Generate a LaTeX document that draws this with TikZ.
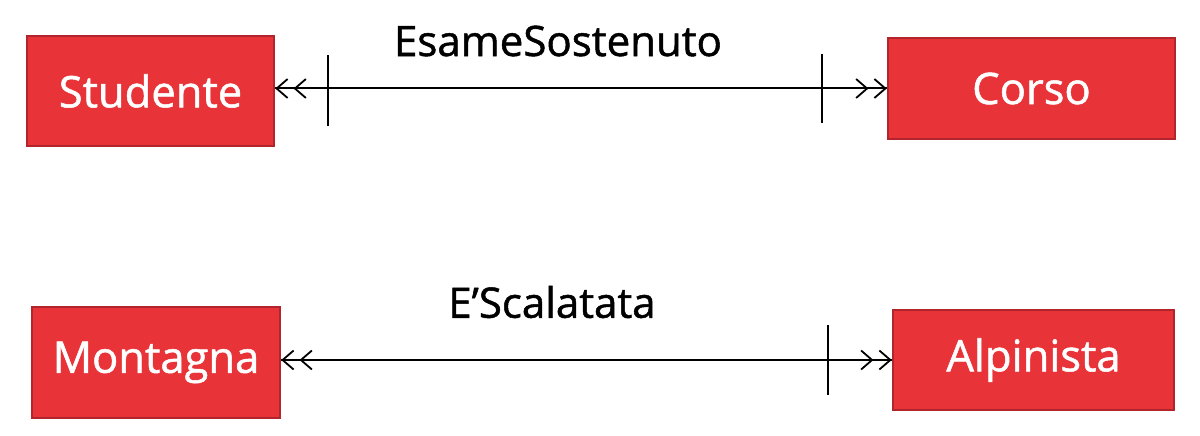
\documentclass[tikz,border=0pt]{standalone}
\usepackage{fontspec}
\setmainfont{Open Sans}
\newfontfamily\comicish[FakeBold=1.2]{Open Sans}
\usetikzlibrary{arrows.meta}
\definecolor{boxfill}{HTML}{E83338}
\definecolor{boxline}{HTML}{B0262C}
\tikzset{
  entity/.style={draw=boxline, fill=boxfill, line width=2.5pt, text=white,
    font=\comicish\fontsize{43.5}{50}\selectfont, inner sep=0pt},
  rel/.style={line width=2pt, draw=black},
  many/.style={-{Straight Barb[length=11pt,width=19pt,line width=1.8pt,sep=5pt]Straight Barb[length=11pt,width=19pt,line width=1.8pt]}},
  lbl/.style={font=\comicish\fontsize{42}{48}\selectfont, text=black},
  bar/.style={line width=2pt, draw=black}
}
\begin{document}
\begin{tikzpicture}[x=1pt,y=-1pt]
\useasboundingbox (0,0) rectangle (1200,436);
\node[entity, minimum width=247pt, minimum height=110pt] (stud) at (150.5,91) {Studente};
\node[entity, minimum width=287pt, minimum height=101pt] (corso) at (1031.5,88.5) {Corso};
\node[entity, minimum width=248pt, minimum height=111pt] (mont) at (156,362.5) {Montagna};
\node[entity, minimum width=281pt, minimum height=100pt] (alp) at (1033.5,360) {Alpinista};

\coordinate (a1) at (stud.east |- corso.west);
\draw[rel, many] (a1) -- (corso.west);
\draw[rel, many] (corso.west) -- (a1);
\coordinate (b1) at (328,90.5);
\coordinate (b2) at (822,88.5);
\draw[bar] ([yshift=-35.5pt]b1) -- ([yshift=35.5pt]b1);
\draw[bar] ([yshift=-34.5pt]b2) -- ([yshift=34.5pt]b2);
\node[lbl] (l1) at (558,41) {EsameSostenuto};

\coordinate (a2) at (mont.east |- alp.west);
\draw[rel, many] (a2) -- (alp.west);
\draw[rel, many] (alp.west) -- (a2);
\coordinate (b3) at (828,360);
\draw[bar] ([yshift=-35pt]b3) -- ([yshift=35pt]b3);
\node[lbl] (l2) at (552,302) {E’Scalatata};
\end{tikzpicture}
\end{document}
